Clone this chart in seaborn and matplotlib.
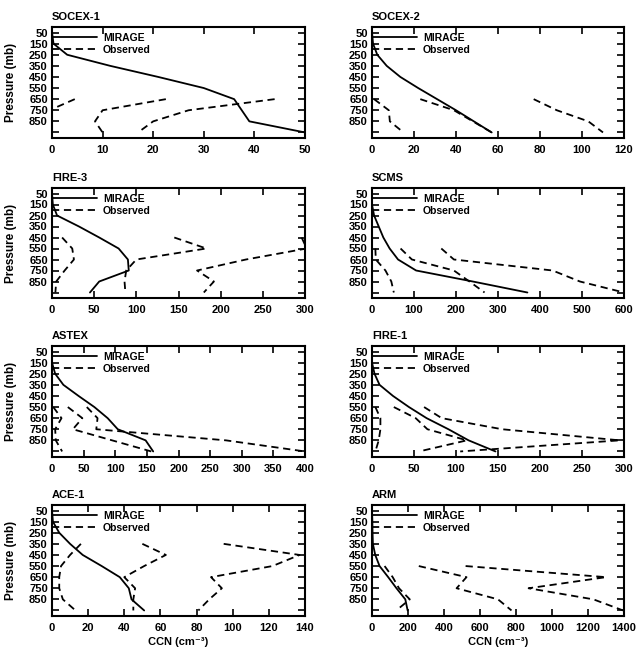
import numpy as np
import pandas as pd
import matplotlib
matplotlib.use("Agg")
import matplotlib.pyplot as plt
from matplotlib.lines import Line2D
import seaborn as sns

# model levels (mb)
LEVELS = [50, 150, 250, 350, 450, 550, 650, 750, 850, 950]

# values, CCN in cm^-3
SOCEX1_MODEL = [0, 0.3, 3, 11.5, 21, 30, 36, 37.5, 39, 50]
SOCEX1_OBS_P = [650, 750, 850, 950]
SOCEX1_LOW = [4.5, -0.5, -6, -5]
SOCEX1_MID = [22.5, 10, 8.5, 10]
SOCEX1_HIGH = [44, 27, 20, 17]

SOCEX2_MODEL = [0, 0.5, 2.5, 7, 13.5, 22, 31, 40, 48.5, 57]
SOCEX2_OBS_P = [650, 750, 850, 950]
SOCEX2_LOW = [1, 8, 8.5, 15]
SOCEX2_MID = [23, 39, 48, 57]
SOCEX2_HIGH = [77, 88, 103, 110]

FIRE3_MODEL = [0, 1, 6, 32, 56, 79, 90, 91, 56, 45]
FIRE3_OBS_P = [450, 550, 650, 750, 850, 950]
FIRE3_LOW = [12, 24, 26, 15, 5, 4]
FIRE3_MID = [145, 183, 100, 88, 86, 87]
FIRE3_HIGH = [296, 302, 230, 172, 192, 180]

SCMS_MODEL = [0, 0, 5, 16, 27, 42, 62, 105, 240, 370]
SCMS_OBS_P = [550, 650, 750, 850, 950]
SCMS_LOW = [8, 9, 32, 46, 52]
SCMS_MID = [68, 95, 195, 232, 268]
SCMS_HIGH = [165, 195, 430, 495, 600]

ASTEX_MODEL = [0, 0, 5, 18, 42, 67, 88, 104, 148, 160]
ASTEX_OBS_P = [550, 650, 750, 850, 950]
ASTEX_LOW = [2, 15, 5, 6, 16]
ASTEX_MID = [25, 48, 33, 95, 157]
ASTEX_HIGH = [55, 72, 70, 275, 400]

FIRE1_MODEL = [0, 0, 3, 9, 25, 44, 65, 91, 115, 147]
FIRE1_OBS_P = [550, 650, 750, 850, 950]
FIRE1_LOW = [4, 10, 10, 8, 4]
FIRE1_MID = [26, 52, 66, 113, 56]
FIRE1_HIGH = [62, 83, 155, 295, 105]

ACE1_MODEL = [0, 0.5, 4, 10, 17, 27.5, 37.5, 42.5, 44, 51]
ACE1_OBS_P = [350, 450, 550, 650, 750, 850, 950]
ACE1_LOW = [16, 10, 5, 4, 4, 6, 13]
ACE1_MID = [50, 63, 51, 40, 46, 45, 45]
ACE1_HIGH = [95, 137, 122, 88, 94, 87, 81]

ARM_MODEL = [0, 2, 3, 5, 18, 42, 90, 136, 185, 198]
ARM_OBS_P = [550, 650, 750, 850, 950]
ARM_LOW = [70, 115, 150, 210, 135]
ARM_MID = [260, 525, 470, 700, 775]
ARM_HIGH = [520, 1300, 870, 1230, 1395]

PANELS = [
    ("SOCEX-1", SOCEX1_MODEL, SOCEX1_OBS_P, [SOCEX1_LOW, SOCEX1_MID, SOCEX1_HIGH], 50, 10),
    ("SOCEX-2", SOCEX2_MODEL, SOCEX2_OBS_P, [SOCEX2_LOW, SOCEX2_MID, SOCEX2_HIGH], 120, 20),
    ("FIRE-3", FIRE3_MODEL, FIRE3_OBS_P, [FIRE3_LOW, FIRE3_MID, FIRE3_HIGH], 300, 50),
    ("SCMS", SCMS_MODEL, SCMS_OBS_P, [SCMS_LOW, SCMS_MID, SCMS_HIGH], 600, 100),
    ("ASTEX", ASTEX_MODEL, ASTEX_OBS_P, [ASTEX_LOW, ASTEX_MID, ASTEX_HIGH], 400, 50),
    ("FIRE-1", FIRE1_MODEL, FIRE1_OBS_P, [FIRE1_LOW, FIRE1_MID, FIRE1_HIGH], 300, 50),
    ("ACE-1", ACE1_MODEL, ACE1_OBS_P, [ACE1_LOW, ACE1_MID, ACE1_HIGH], 140, 20),
    ("ARM", ARM_MODEL, ARM_OBS_P, [ARM_LOW, ARM_MID, ARM_HIGH], 1400, 200),
]

LINE_W = 1.3
DASH = (0, (4, 2.6))
FONT = 7.5

# axes boxes in pixels (left, top, right, bottom) of a 639x657 canvas
COLS = [(52, 305), (372, 624)]
ROWS = [(27, 138), (188, 298), (346, 457), (505, 616)]
W, H = 639, 657


def draw_panel(ax, title, model, obs_p, obs_lines, xmax, xstep, left, bottom):
    sns.lineplot(x=model, y=LEVELS, orient="y", color="black", lw=LINE_W, ax=ax)
    obs = pd.DataFrame({
        "pressure": np.tile(obs_p, len(obs_lines)),
        "ccn": np.concatenate(obs_lines),
        "line": np.repeat(np.arange(len(obs_lines)), len(obs_p)),
    })
    sns.lineplot(data=obs, x="ccn", y="pressure", units="line", estimator=None,
                 orient="y", color="black", lw=LINE_W, linestyle=DASH, ax=ax)

    ax.set_xlim(0, xmax)
    ax.set_ylim(1000, 0)
    ax.set_xticks(np.arange(0, xmax + 1, xstep))
    ax.set_yticks(LEVELS)
    ax.set_yticklabels([str(p) for p in LEVELS[:-1]] + [""])
    ax.tick_params(direction="in", top=True, right=True, length=5, width=1.2,
                   labelsize=FONT + 0.5)
    ax.tick_params(axis="x", pad=5)
    ax.tick_params(axis="y", pad=3)
    for spine in ax.spines.values():
        spine.set_linewidth(1.5)
        spine.set_visible(True)

    ax.set_title(title, loc="left", fontsize=FONT + 0.5, fontweight="bold", pad=5)
    handles = [Line2D([], [], color="black", lw=LINE_W),
               Line2D([], [], color="black", lw=LINE_W, linestyle=DASH)]
    ax.legend(handles, ["MIRAGE", "Observed"], loc="upper left",
              bbox_to_anchor=(0, 0.945), frameon=False, borderpad=0,
              borderaxespad=0, handlelength=4.3, handletextpad=0.6,
              labelspacing=0.15, prop={"size": FONT, "weight": "bold"})

    ax.set_xlabel("CCN (cm⁻³)" if bottom else "", fontsize=FONT + 0.5, labelpad=3)
    ax.set_ylabel("Pressure (mb)" if left else "", fontsize=FONT + 1, labelpad=9)


def main():
    sns.set_style("ticks")
    plt.rcParams.update({
        "font.family": ["Liberation Sans", "DejaVu Sans"],
        "font.weight": "bold",
        "axes.labelweight": "bold",
        "text.color": "black",
        "axes.labelcolor": "black",
        "axes.edgecolor": "black",
        "xtick.color": "black",
        "ytick.color": "black",
    })
    fig = plt.figure(figsize=(W / 100, H / 100), dpi=100)
    for i, (title, model, obs_p, obs_lines, xmax, xstep) in enumerate(PANELS):
        r, c = divmod(i, 2)
        x0, x1 = COLS[c]
        y0, y1 = ROWS[r]
        ax = fig.add_axes([x0 / W, 1 - y1 / H, (x1 - x0) / W, (y1 - y0) / H])
        draw_panel(ax, title, model, obs_p, obs_lines, xmax, xstep,
                   left=(c == 0), bottom=(r == 3))
    fig.savefig("out.png", dpi=100)
    plt.close(fig)


if __name__ == "__main__":
    main()
